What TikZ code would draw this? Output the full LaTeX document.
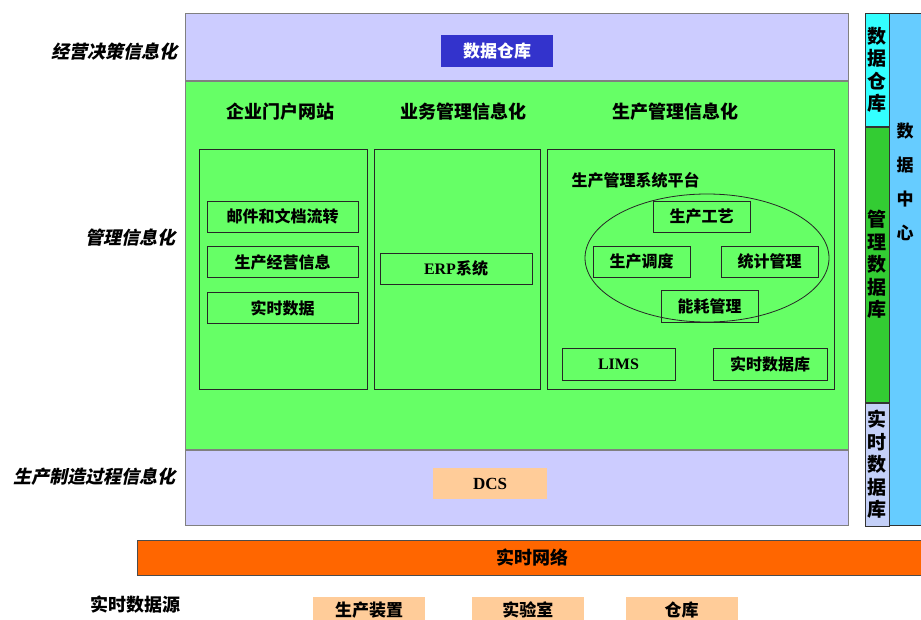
\documentclass[tikz,border=0pt]{standalone}
\usepackage{fontspec}
\setmainfont{Liberation Serif}
\newfontfamily\cjk{Noto Sans CJK SC}
\newfontfamily\cjkit{Noto Sans CJK SC}[FakeSlant=0.22]
\usetikzlibrary{shapes.geometric, positioning}
\definecolor{lavender}{HTML}{CCCCFF}
\definecolor{brightgreen}{HTML}{66FF66}
\definecolor{deepblue}{HTML}{3333CC}
\definecolor{peach}{HTML}{FFCC99}
\definecolor{netorange}{HTML}{FF6600}
\definecolor{stripcyan}{HTML}{33FFFF}
\definecolor{stripgreen}{HTML}{33CC33}
\definecolor{striplav}{HTML}{C4D0F8}
\definecolor{centerblue}{HTML}{66CCFF}
\newcommand{\px}[1]{\fontsize{#1}{#1}\selectfont}
\tikzstyle{band} = [rectangle, draw=gray, inner sep=0pt, minimum width=663pt]
\tikzstyle{column} = [rectangle, draw=black!85, inner sep=0pt, minimum height=240pt]
\tikzstyle{item} = [rectangle, draw=black!85, minimum height=31pt, inner sep=0pt, font=\cjk\bfseries\px{16}]
\tikzstyle{head} = [font=\cjk\bfseries\px{18}]
\tikzstyle{level} = [anchor=east, font=\cjkit\bfseries\px{18}]
\tikzstyle{tag} = [rectangle, fill=peach, minimum height=31pt, inner sep=0pt, font=\cjk\bfseries\px{17}]
\tikzstyle{source} = [tag, minimum width=112pt, minimum height=34pt, text depth=9pt]
\tikzstyle{strip} = [rectangle, draw=black!80, minimum width=24pt, inner sep=0pt, align=center, font=\cjk\bfseries\fontsize{19}{22.5}\selectfont]

\begin{document}
\begin{tikzpicture}[x=1pt, y=-1pt, node distance=14pt, line width=0.8pt]
		\useasboundingbox (0,0) rectangle (921,619);
		% three layers
		\node (TopBand) [band, fill=lavender, minimum height=67pt, anchor=north west] at (185,13) {};
		\node (MidBand) [band, fill=brightgreen, minimum height=368pt, below=0pt of TopBand] {};
		\node (LowBand) [band, fill=lavender, minimum height=75pt, below=0pt of MidBand] {};
		\node (Warehouse) [rectangle, fill=deepblue, text=white, minimum width=112pt, minimum height=32pt, font=\cjk\bfseries\px{17}] at (497,51) {数据仓库};
		\node (PortalHead) [head] at (280,112) {企业门户网站};
		\node (BizHead) [head] at (463,112) {业务管理信息化};
		\node (ProdHead) [head] at (675,112) {生产管理信息化};
		\node (PortalCol) [column, minimum width=168pt] at (283,269) {};
		\node (BizCol) [column, minimum width=166pt] at (457,269) {};
		\node (ProdCol) [column, minimum width=287pt] at (690.5,269) {};
		\node (Mail) [item, minimum width=151pt] at (282.5,216.5) {邮件和文档流转};
		\node (BizInfo) [item, minimum width=151pt, below=of Mail] {生产经营信息};
		\node (RtData) [item, minimum width=151pt, below=of BizInfo] {实时数据};
		\node (Erp) [item, minimum width=152pt] at (456,268.5) {{\rmfamily\bfseries ERP}系统};
		\node (PlatformLabel) [anchor=west, font=\cjk\bfseries\px{16}] at (568,180) {生产管理系统平台};
		\node (Platform) [ellipse, draw=black!85, minimum width=244pt, minimum height=128pt] at (707,258) {};
		\node (Craft) [item, minimum width=97pt] at (701.5,216.5) {生产工艺};
		\node (Dispatch) [item, minimum width=97pt] at (641.5,261.5) {生产调度};
		\node (Stats) [item, minimum width=97pt] at (769.5,261.5) {统计管理};
		\node (Energy) [item, minimum width=97pt, minimum height=32pt] at (709.5,306) {能耗管理};
		\node (Lims) [item, minimum width=113pt, minimum height=32pt, font=\rmfamily\bfseries\px{16}] at (618.5,364) {LIMS};
		\node (RtDb) [item, minimum width=114pt, minimum height=32pt] at (770,364) {实时数据库};
		\node (Dcs) [tag, minimum width=114pt, font=\rmfamily\bfseries\px{17}] at (490,483.5) {DCS};
		% network and sources
		\node (Network) [rectangle, draw=black!70, fill=netorange, minimum width=790pt, minimum height=35pt, anchor=west, font=\cjk\bfseries\px{18}] at (137,557.5) {实时网络};
		\node (Plant) [source] at (369,614) {生产装置};
		\node (Lab) [source, right=46pt of Plant] {实验室};
		\node (Store) [source, right=41pt of Lab] {仓库};
		% level names
		\node (DecisionLevel) [level] at (181,52) {经营决策信息化};
		\node (MgmtLevel) [level] at (179,238) {管理信息化};
		\node (ProcessLevel) [level] at (179,477) {生产制造过程信息化};
		\node (SourceLevel) [anchor=east, font=\cjk\bfseries\px{18}] at (184,605) {实时数据源};
		% data center
		\node (DataCenter) [rectangle, draw=black!80, fill=centerblue, minimum width=40pt, minimum height=512pt, anchor=north west] at (889,13) {};
		\node (DataCenterText) [align=center, font=\cjk\bfseries\fontsize{17}{34}\selectfont] at (905,182) {数\\据\\中\\心};
		\node (DwStrip) [strip, fill=stripcyan, minimum height=113pt, anchor=north west] at (865,13) {数\\据\\仓\\库};
		\node (MgmtStrip) [strip, fill=stripgreen, minimum height=275pt, below=0pt of DwStrip] {管\\理\\数\\据\\库};
		\node (RtStrip) [strip, fill=striplav, minimum height=123pt, below=0pt of MgmtStrip] {实\\时\\数\\据\\库};
\end{tikzpicture}
\end{document}
